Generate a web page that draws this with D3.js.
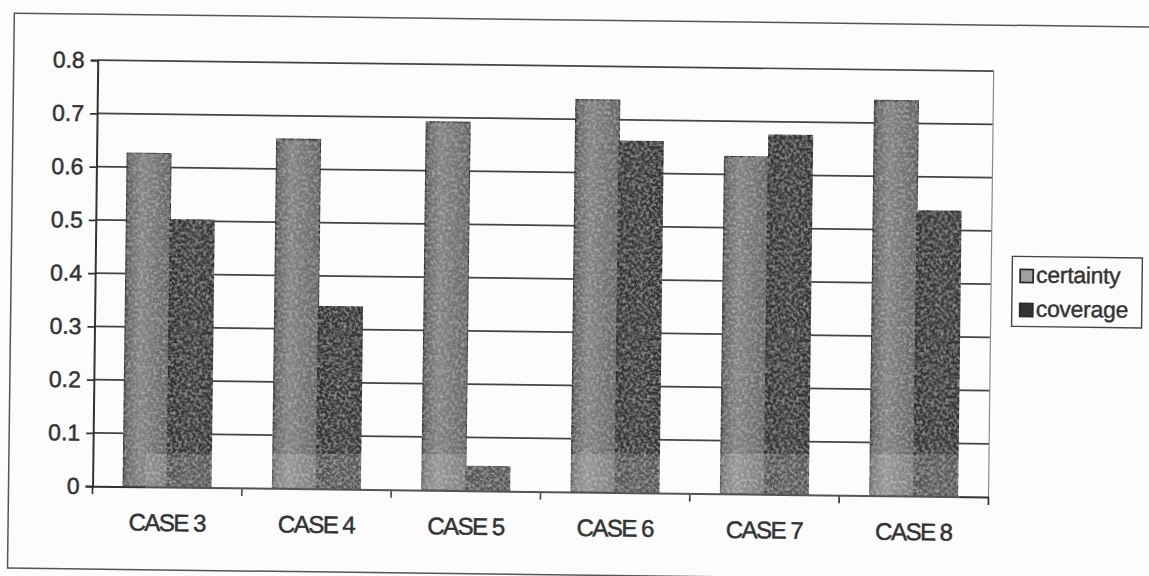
<!DOCTYPE html>
<html>
<head>
<meta charset="utf-8">
<script src="https://cdn.jsdelivr.net/npm/d3@7"></script>
<style>
  html, body { margin: 0; padding: 0; background: #fcfcfc; }
  svg { display: block; }
  text { font-family: "Liberation Sans", Arial, sans-serif; fill: #333; }
</style>
</head>
<body>
<svg id="chart" width="1149" height="576"></svg>
<script>
// ---- data ----
const categories = ["CASE 3", "CASE 4", "CASE 5", "CASE 6", "CASE 7", "CASE 8"];
const seriesNames = ["certainty", "coverage"];
const certainty = [0.627, 0.656, 0.692, 0.737, 0.634, 0.742];
const coverage  = [0.502, 0.343, 0.046, 0.661, 0.676, 0.536];
const yTicks = [0, 0.1, 0.2, 0.3, 0.4, 0.5, 0.6, 0.7, 0.8];
const yTickLabels = ["0", "0.1", "0.2", "0.3", "0.4", "0.5", "0.6", "0.7", "0.8"];

const W = 1149, H = 576;
const plot = { left: 95, right: 991, top: 66, bottom: 492 };

const svg = d3.select("#chart");
const defs = svg.append("defs");

// subtle mottled grain filter to mimic the scanned texture
const f = defs.append("filter").attr("id", "grain")
  .attr("x", 0).attr("y", 0).attr("width", "100%").attr("height", "100%");
f.append("feTurbulence").attr("type", "fractalNoise").attr("baseFrequency", 0.35)
  .attr("numOctaves", 3).attr("seed", 7).attr("result", "noise");
f.append("feColorMatrix").attr("in", "noise").attr("type", "matrix")
  .attr("values", "0 0 0 0 1  0 0 0 0 1  0 0 0 0 1  0.7 0 0 0 -0.3").attr("result", "spots");
f.append("feComposite").attr("in", "spots").attr("in2", "SourceGraphic").attr("operator", "in").attr("result", "s2");
const m = f.append("feMerge");
m.append("feMergeNode").attr("in", "SourceGraphic");
m.append("feMergeNode").attr("in", "s2");

const gCert = defs.append("linearGradient").attr("id", "gCert").attr("x1", 0).attr("x2", 1).attr("y1", 0).attr("y2", 0);
[["0%", "#555555"], ["10%", "#6a6a6a"], ["35%", "#838383"], ["70%", "#727272"], ["100%", "#646464"]]
  .forEach(([o, c]) => gCert.append("stop").attr("offset", o).attr("stop-color", c));
const gCov = defs.append("linearGradient").attr("id", "gCov").attr("x1", 0).attr("x2", 1).attr("y1", 0).attr("y2", 0);
[["0%", "#303030"], ["50%", "#3a3a3a"], ["100%", "#313131"]]
  .forEach(([o, c]) => gCov.append("stop").attr("offset", o).attr("stop-color", c));

const fills = { certainty: "url(#gCert)", coverage: "url(#gCov)" };
const swatch = { certainty: "#a0a0a0", coverage: "#333333" };

// whole scan is slightly rotated
const root = svg.append("g").attr("transform", `rotate(0.7, ${W/2}, ${H/2})`);

// outer border
root.append("rect").attr("x", 11).attr("y", 20).attr("width", 1160).attr("height", 555)
  .attr("fill", "none").attr("stroke", "#555").attr("stroke-width", 1.5);

const x = d3.scaleBand().domain(categories).range([plot.left, plot.right]).padding(0);
const bw = x.bandwidth();
const xs = d3.scaleBand().domain(seriesNames).range([bw * 0.205, bw * 0.795]).padding(0);
const y = d3.scaleLinear().domain([0, 0.8]).range([plot.bottom, plot.top]);

// gridlines
root.append("g").selectAll("line").data(yTicks.filter(d => d > 0)).join("line")
  .attr("x1", plot.left).attr("x2", plot.right)
  .attr("y1", d => y(d)).attr("y2", d => y(d))
  .attr("stroke", "#444").attr("stroke-width", 1.7);
// right plot edge
root.append("line").attr("x1", plot.right).attr("x2", plot.right)
  .attr("y1", plot.top).attr("y2", plot.bottom)
  .attr("stroke", "#8a8a8a").attr("stroke-width", 1.2);

// bars
const rows = categories.map((c, i) => ({ cat: c, certainty: certainty[i], coverage: coverage[i] }));
const groups = root.append("g").selectAll("g").data(rows).join("g")
  .attr("transform", d => `translate(${x(d.cat)},0)`);
groups.selectAll("rect").data(d => seriesNames.map(k => ({ key: k, value: d[k] }))).join("rect")
  .attr("x", d => xs(d.key)).attr("width", xs.bandwidth())
  .attr("y", d => y(d.value)).attr("height", d => y(0) - y(d.value))
  .attr("fill", d => fills[d.key])
  .attr("stroke", "#2a2a2a").attr("stroke-width", 1.4)
  .attr("filter", "url(#grain)");

// y axis
const yAxis = root.append("g").attr("transform", `translate(${plot.left},0)`)
  .call(d3.axisLeft(y).tickValues(yTicks).tickFormat((d, i) => yTickLabels[i]).tickSize(7).tickPadding(6));
yAxis.select(".domain").attr("stroke", "#333").attr("stroke-width", 2);
yAxis.selectAll(".tick line").attr("stroke", "#333").attr("stroke-width", 1.7);
yAxis.selectAll(".tick text").attr("font-size", 23).attr("fill", "#333")
  .attr("stroke", "#333").attr("stroke-width", 0.5)
  .attr("font-family", "Liberation Sans, Arial, sans-serif");

// x axis
const xAxis = root.append("g").attr("transform", `translate(0,${plot.bottom})`)
  .call(d3.axisBottom(x).tickSize(0).tickPadding(27));
xAxis.select(".domain").attr("stroke", "#333").attr("stroke-width", 2);
xAxis.selectAll(".tick text").attr("font-size", 24).attr("letter-spacing", -1.5)
  .attr("fill", "#333").attr("stroke", "#333").attr("stroke-width", 0.5)
  .attr("font-family", "Liberation Sans, Arial, sans-serif");
// category boundary ticks
const bounds = categories.map(c => x(c)).concat([x(categories[categories.length - 1]) + bw]);
xAxis.append("g").selectAll("line").data(bounds).join("line")
  .attr("x1", d => d).attr("x2", d => d).attr("y1", 0).attr("y2", 8)
  .attr("stroke", "#333").attr("stroke-width", 1.7);

// legend
const lg = root.append("g").attr("transform", "translate(1012,251)");
lg.append("rect").attr("width", 130).attr("height", 70).attr("fill", "none")
  .attr("stroke", "#444").attr("stroke-width", 1.4);
seriesNames.forEach((k, i) => {
  const it = lg.append("g").attr("transform", `translate(8,${13 + i * 34})`);
  it.append("rect").attr("width", 13).attr("height", 13).attr("fill", swatch[k])
    .attr("stroke", "#2a2a2a").attr("stroke-width", 1.8);
  it.append("text").attr("x", 16).attr("y", 13).attr("font-size", 23)
    .attr("letter-spacing", -0.3).attr("stroke", "#333").attr("stroke-width", 0.4).text(k);
});

// scanner light band across the bottom of the bars (unrotated artifact)
svg.append("rect").attr("x", 145).attr("y", 454).attr("width", 815).attr("height", 44)
  .attr("fill", "#ffffff").attr("opacity", 0.16);
</script>
</body>
</html>
